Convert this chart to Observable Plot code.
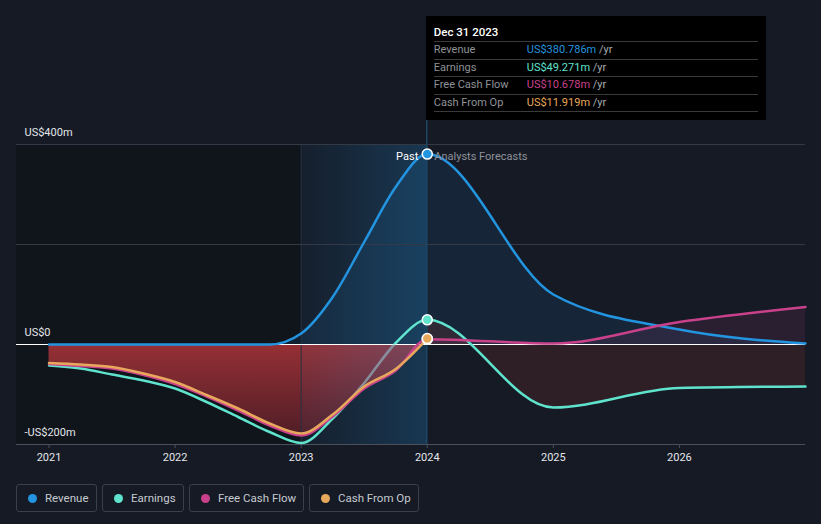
<!DOCTYPE html>
<html><head><meta charset="utf-8">
<script src="https://cdn.jsdelivr.net/npm/d3@7"></script>
<script src="https://cdn.jsdelivr.net/npm/@observablehq/plot@0.6"></script>
<style>
html,body{margin:0;padding:0;background:#151a25;}
body{width:821px;height:524px;overflow:hidden;position:relative;font-family:Roboto,"Noto Sans",sans-serif;}
#chart svg{display:block;}
#legend{display:flex;gap:5px;margin-left:16px;margin-top:8px;}
.item{box-sizing:border-box;height:28px;border:1px solid #3a3f4a;border-radius:3px;display:flex;align-items:center;padding-left:11px;font-size:11.5px;color:#c6cad0;}
.dot{width:9px;height:9px;border-radius:50%;margin-right:8px;flex:none;}
#tip{position:absolute;top:16px;width:340px;height:104px;background:#000;box-sizing:border-box;padding:0 8px;}
#tip .title{height:25px;box-sizing:border-box;padding-top:9px;line-height:14px;font-size:11.5px;font-weight:500;color:#fff;}
#tip .row{height:17.5px;box-sizing:border-box;border-top:1px solid #3a3a3a;line-height:16px;font-size:11px;display:flex;}
#tip .row:last-child{border-bottom:1px solid #3a3a3a;height:18.5px;}
#tip .lab{width:93px;color:#8f9297;}
#tip .unit{color:#a9acb0;}
</style>
</head><body>
<div id="chart"></div>
<div id="legend"></div>
<div id="tip"></div>
<script>
// ---- data ----
const pastYears = [2021, 2021.25, 2021.5, 2021.75, 2022, 2022.25, 2022.5, 2022.75, 2023, 2023.25, 2023.5, 2023.75, 2024];
const pastRevenue  = [0, 0, 0, 0, 0, 0, 0, 0, 22, 95, 205, 315, 380.786];
const pastEarnings = [-42, -48, -60, -72, -88, -115, -145, -175, -197, -148, -77, 3, 49.271];
const pastFCF      = [-39, -43, -48, -61, -79, -104, -132, -162, -182, -144, -88, -52, 10.678];
const pastCFO      = [-37, -40, -45, -58, -75, -101, -128, -158, -178, -140, -84, -49, 11.919];
const forecastYears    = [2025, 2026, 2027];
const forecastRevenue  = [100, 30, 2];
const forecastEarnings = [-126, -87, -84];
const forecastFCF      = [2, 45, 75];

const xTickValues = [2021, 2022, 2023, 2024, 2025, 2026];
const gridValues = [400, 200];
const yLabelValues = [400, 0, -200];
const yLabels = ["US$400m", "US$0", "-US$200m"];
const seriesNames = ["Revenue", "Earnings", "Free Cash Flow", "Cash From Op"];
const seriesColors = ["#2394df", "#5fe3cd", "#c9418b", "#e8a85c"];
const tipDate = "Dec 31 2023";
const tipValues = ["US$380.786m", "US$49.271m", "US$10.678m", "US$11.919m"];
const pastLabel = "Past";
const forecastLabel = "Analysts Forecasts";

const xMin = 2020.742, xMax = 2027, yMin = -200, yMax = 400;
const pastStart = 2023, nowYear = 2024;

// ---- tables ----
const mk = (xs, ys) => xs.map((x, i) => ({x, y: ys[i]}));
const rev  = mk(pastYears, pastRevenue).concat(mk(forecastYears, forecastRevenue));
const earn = mk(pastYears, pastEarnings).concat(mk(forecastYears, forecastEarnings));
const fcf  = mk(pastYears, pastFCF).concat(mk(forecastYears, forecastFCF));
const cfo  = mk(pastYears, pastCFO);
const endPts = [
  {x: nowYear, y: pastRevenue[pastRevenue.length-1], c: seriesColors[0]},
  {x: nowYear, y: pastEarnings[pastEarnings.length-1], c: seriesColors[1]},
  {x: nowYear, y: pastFCF[pastFCF.length-1], c: seriesColors[2]},
  {x: nowYear, y: pastCFO[pastCFO.length-1], c: seriesColors[3]}
];
const C = "monotone-x";

const chart = Plot.plot({
  width: 821, height: 476,
  marginLeft: 16, marginRight: 16, marginTop: 144, marginBottom: 32,
  style: {background: "transparent", fontFamily: "Roboto, sans-serif", overflow: "visible"},
  x: {type: "linear", domain: [xMin, xMax], axis: null},
  y: {type: "linear", domain: [yMin, yMax], axis: null},
  marks: [
    Plot.rect([0], {x1: () => xMin, x2: () => pastStart, y1: () => yMin, y2: () => yMax, fill: "#10141b"}),
    Plot.areaY(rev, {x: "x", y: "y", curve: C, fill: seriesColors[0], fillOpacity: 0.1}),
    Plot.areaY(earn, {x: "x", y: "y", curve: C, fill: "#c13b31", fillOpacity: 0.15, ariaDescription: "fc-earn"}),
    Plot.areaY(fcf, {x: "x", y: "y", curve: C, fill: "#c9418b", fillOpacity: 0.12, ariaDescription: "fc-fcf"}),
    Plot.areaY(cfo, {x: "x", y: "y", curve: C, fill: "url(#redGrad)", ariaDescription: "red-area"}),
    Plot.lineY(earn, {x: "x", y: "y", curve: C, stroke: "#a3adad", strokeOpacity: 0.75, strokeWidth: 2.5, ariaDescription: "earn-under"}),
    Plot.rect([0], {x1: () => pastStart, x2: () => nowYear, y1: () => yMin, y2: () => yMax, fill: "url(#bandGrad)"}),
    Plot.ruleX([pastStart], {y1: () => yMin, y2: () => yMax, stroke: "#263140", strokeWidth: 1}),
    Plot.ruleY(gridValues, {x1: () => xMin, x2: () => xMax, stroke: "#343a45", strokeWidth: 1}),
    Plot.ruleY([yMin], {x1: () => xMin, x2: () => xMax, stroke: "#4a505b", strokeWidth: 1}),
    Plot.ruleX(xTickValues, {x: d => d, y1: () => yMin, y2: () => yMin - 8, stroke: "#4a505b", strokeWidth: 1}),
    Plot.ruleY([0], {x1: () => xMin, x2: () => xMax, stroke: "#ffffff", strokeWidth: 1}),
    Plot.lineY(earn, {x: "x", y: "y", curve: C, stroke: seriesColors[1], strokeWidth: 2.5, ariaDescription: "earn-line"}),
    Plot.lineY(rev, {x: "x", y: "y", curve: C, stroke: seriesColors[0], strokeWidth: 2.5}),
    Plot.lineY(fcf, {x: "x", y: "y", curve: C, stroke: seriesColors[2], strokeWidth: 2.5}),
    Plot.lineY(cfo, {x: "x", y: "y", curve: C, stroke: seriesColors[3], strokeWidth: 2.5}),
    Plot.dot(endPts, {x: "x", y: "y", r: 5, fill: "c", stroke: "#ffffff", strokeWidth: 1.5, ariaDescription: "end-dots"}),
    Plot.text(yLabelValues, {x: () => xMin, y: d => d, text: (d, i) => yLabels[i], dx: 8, dy: -12, textAnchor: "start", fill: "#e4e6ea", fontSize: 11}),
    Plot.text(xTickValues, {x: d => d, y: () => yMin, text: d => String(d), dy: 13, fill: "#e4e6ea", fontSize: 11}),
    Plot.text([pastLabel], {x: () => nowYear, y: () => yMax, text: d => d, dx: -9, dy: 12, textAnchor: "end", fill: "#ffffff", fontSize: 11}),
    Plot.text([forecastLabel], {x: () => nowYear, y: () => yMax, text: d => d, dx: 7, dy: 12, textAnchor: "start", fill: "#8e929a", fontSize: 11})
  ]
});
document.getElementById("chart").appendChild(chart);

const xs = chart.scale("x"), ys = chart.scale("y");
const svg = d3.select(chart);
const G = name => svg.select(`g[aria-description="${name}"]`);
const defs = svg.insert("defs", ":first-child");
const rg = defs.append("linearGradient").attr("id", "redGrad").attr("x1", 0).attr("x2", 0).attr("y1", 0).attr("y2", 1);
rg.append("stop").attr("offset", "0%").attr("stop-color", "#9a3136");
rg.append("stop").attr("offset", "100%").attr("stop-color", "#521e27");
const bg = defs.append("linearGradient").attr("id", "bandGrad").attr("x1", 0).attr("x2", 1).attr("y1", 0).attr("y2", 0);
bg.append("stop").attr("offset", "0%").attr("stop-color", "#2394df").attr("stop-opacity", 0.04);
bg.append("stop").attr("offset", "100%").attr("stop-color", "#2394df").attr("stop-opacity", 0.24);
const x24 = xs.apply(nowYear), x27 = xs.apply(xMax);
defs.append("clipPath").attr("id", "fcClip").append("rect")
  .attr("x", x24).attr("y", 0).attr("width", x27 - x24).attr("height", 476);
G("fc-earn").attr("clip-path", "url(#fcClip)");
G("fc-fcf").attr("clip-path", "url(#fcClip)");
const dotG = G("end-dots").node();
if (dotG) {
  const ln = document.createElementNS("http://www.w3.org/2000/svg", "line");
  d3.select(ln).attr("x1", x24).attr("x2", x24).attr("y1", 16).attr("y2", ys.apply(yMin))
    .attr("stroke", "#1d4766").attr("stroke-width", 1.5);
  dotG.parentNode.insertBefore(ln, dotG);
}

// earnings line looks greyish where it passes over the red past fill
const redPath = G("red-area").select("path");
if (!redPath.empty()) {
  const areaPath = redPath.attr("d");
  defs.append("clipPath").attr("id", "redClip").append("path").attr("d", areaPath);
  G("earn-under").attr("clip-path", "url(#redClip)");
  const m = defs.append("mask").attr("id", "earnMask").attr("maskUnits", "userSpaceOnUse")
    .attr("x", 0).attr("y", 0).attr("width", 821).attr("height", 476);
  m.append("rect").attr("x", 0).attr("y", 0).attr("width", 821).attr("height", 476).attr("fill", "#fff");
  m.append("path").attr("d", areaPath).attr("fill", "#000");
  G("earn-line").attr("mask", "url(#earnMask)");
}

// legend
const legend = d3.select("#legend");
const widths = [81, 82, 115, 110];
seriesNames.forEach((n, i) => {
  const it = legend.append("div").attr("class", "item").style("width", widths[i] + "px");
  it.append("div").attr("class", "dot").style("background", seriesColors[i]);
  it.append("span").text(n);
});

// tooltip
const tip = d3.select("#tip").style("left", (x24 - 1) + "px");
tip.append("div").attr("class", "title").text(tipDate);
seriesNames.forEach((n, i) => {
  const r = tip.append("div").attr("class", "row");
  r.append("span").attr("class", "lab").text(n);
  r.append("span").style("color", seriesColors[i]).text(tipValues[i]);
  r.append("span").attr("class", "unit").html("&nbsp;/yr");
});
</script>
</body></html>
